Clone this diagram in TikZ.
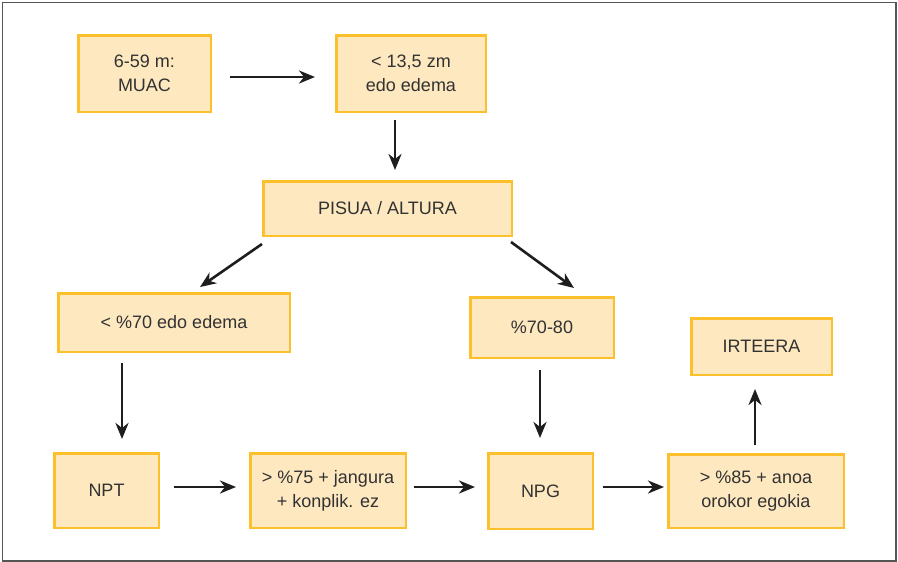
\documentclass[tikz,border=0pt]{standalone}
\usepackage{fontspec}
\setmainfont{Liberation Sans}
\usepackage{tikz}
\usetikzlibrary{positioning,arrows.meta,calc}
\definecolor{BoxFill}{RGB}{254,232,192}
\definecolor{BoxLine}{RGB}{253,192,45}
\definecolor{TextGray}{RGB}{50,50,50}
\definecolor{ArrowGray}{RGB}{30,30,30}
\definecolor{FrameGray}{RGB}{85,85,85}

\begin{document}
\begin{tikzpicture}[x=1pt,y=-1pt,
		box/.style={rectangle,draw=BoxLine,fill=BoxFill,line width=2.5pt,inner sep=0pt,
			text=TextGray,align=center,font=\fontsize{18}{24}\selectfont},
		arr/.style={draw=ArrowGray,line width=2.6pt,-{Stealth[length=16pt,width=13pt,inset=5pt]}}]
			\useasboundingbox (0,0) rectangle (898,562);
			\draw[FrameGray,line width=1.3pt] (2.5,2.5) rectangle (896,561);
			\node [box,minimum width=132.5pt,minimum height=76.5pt,name=muac] at (144.5,73.5) {6-59 m:\\MUAC};
			\node [box,minimum width=149.5pt,minimum height=76.5pt,name=zm] at (411,73.5) {< 13,5 zm\\edo edema};
			\node [box,minimum width=248.5pt,minimum height=54.5pt,name=pisua] at (387.5,208.5) {PISUA / ALTURA};
			\node [box,minimum width=231.5pt,minimum height=58.5pt,name=lt] at (174,322.5) {< \%70 edo edema};
			\node [box,minimum width=143.5pt,minimum height=60.5pt,name=mid] at (542,327.5) {\%70-80};
			\node [box,minimum width=140.5pt,minimum height=56.5pt,name=irt] at (761.5,346.5) {IRTEERA};
			\node [box,minimum width=104.5pt,minimum height=74.5pt,name=npt] at (106.5,490.5) {NPT};
			\node [box,minimum width=155.5pt,minimum height=74.5pt,name=jan] at (328,490.5) {> \%75 + jangura\\+ konplik. ez};
			\node [box,minimum width=104.5pt,minimum height=75.5pt,name=npg] at (540.5,491) {NPG};
			\node [box,minimum width=175.5pt,minimum height=73.5pt,name=anoa] at (756,491) {> \%85 + anoa\\orokor egokia};
			\draw[arr] ($(muac.east)+(18,3.5)$) -- ($(zm.west)+(-20,3.5)$);
			\draw[arr] ($(zm.south)+(-16,7)$) -- ($(pisua.north)+(7.5,-10)$);
			\draw[arr] ($(pisua.south west)+(0,7)$) -- ($(lt.north)+(26,-5)$);
			\draw[arr] ($(pisua.south east)+(-2,5)$) -- ($(mid.north)+(32,-8)$);
			\draw[arr] ($(lt.south)+(-52,10)$) -- ($(npt.north)+(15.5,-13)$);
			\draw[arr] ($(mid.south)+(-2,11)$) -- ($(npg.north)+(-0.5,-14)$);
			\draw[arr] ($(npt.east)+(14,-3.5)$) -- ($(jan.west)+(-13,-3.5)$);
			\draw[arr] ($(jan.east)+(7,-3.5)$) -- ($(npg.west)+(-12,-4)$);
			\draw[arr] ($(npg.east)+(9,-4)$) -- ($(anoa.west)+(-3,-4)$);
			\draw[arr] ($(anoa.north)+(-1,-8)$) -- ($(irt.south)+(-6.5,13)$);
		\end{tikzpicture}
\end{document}
